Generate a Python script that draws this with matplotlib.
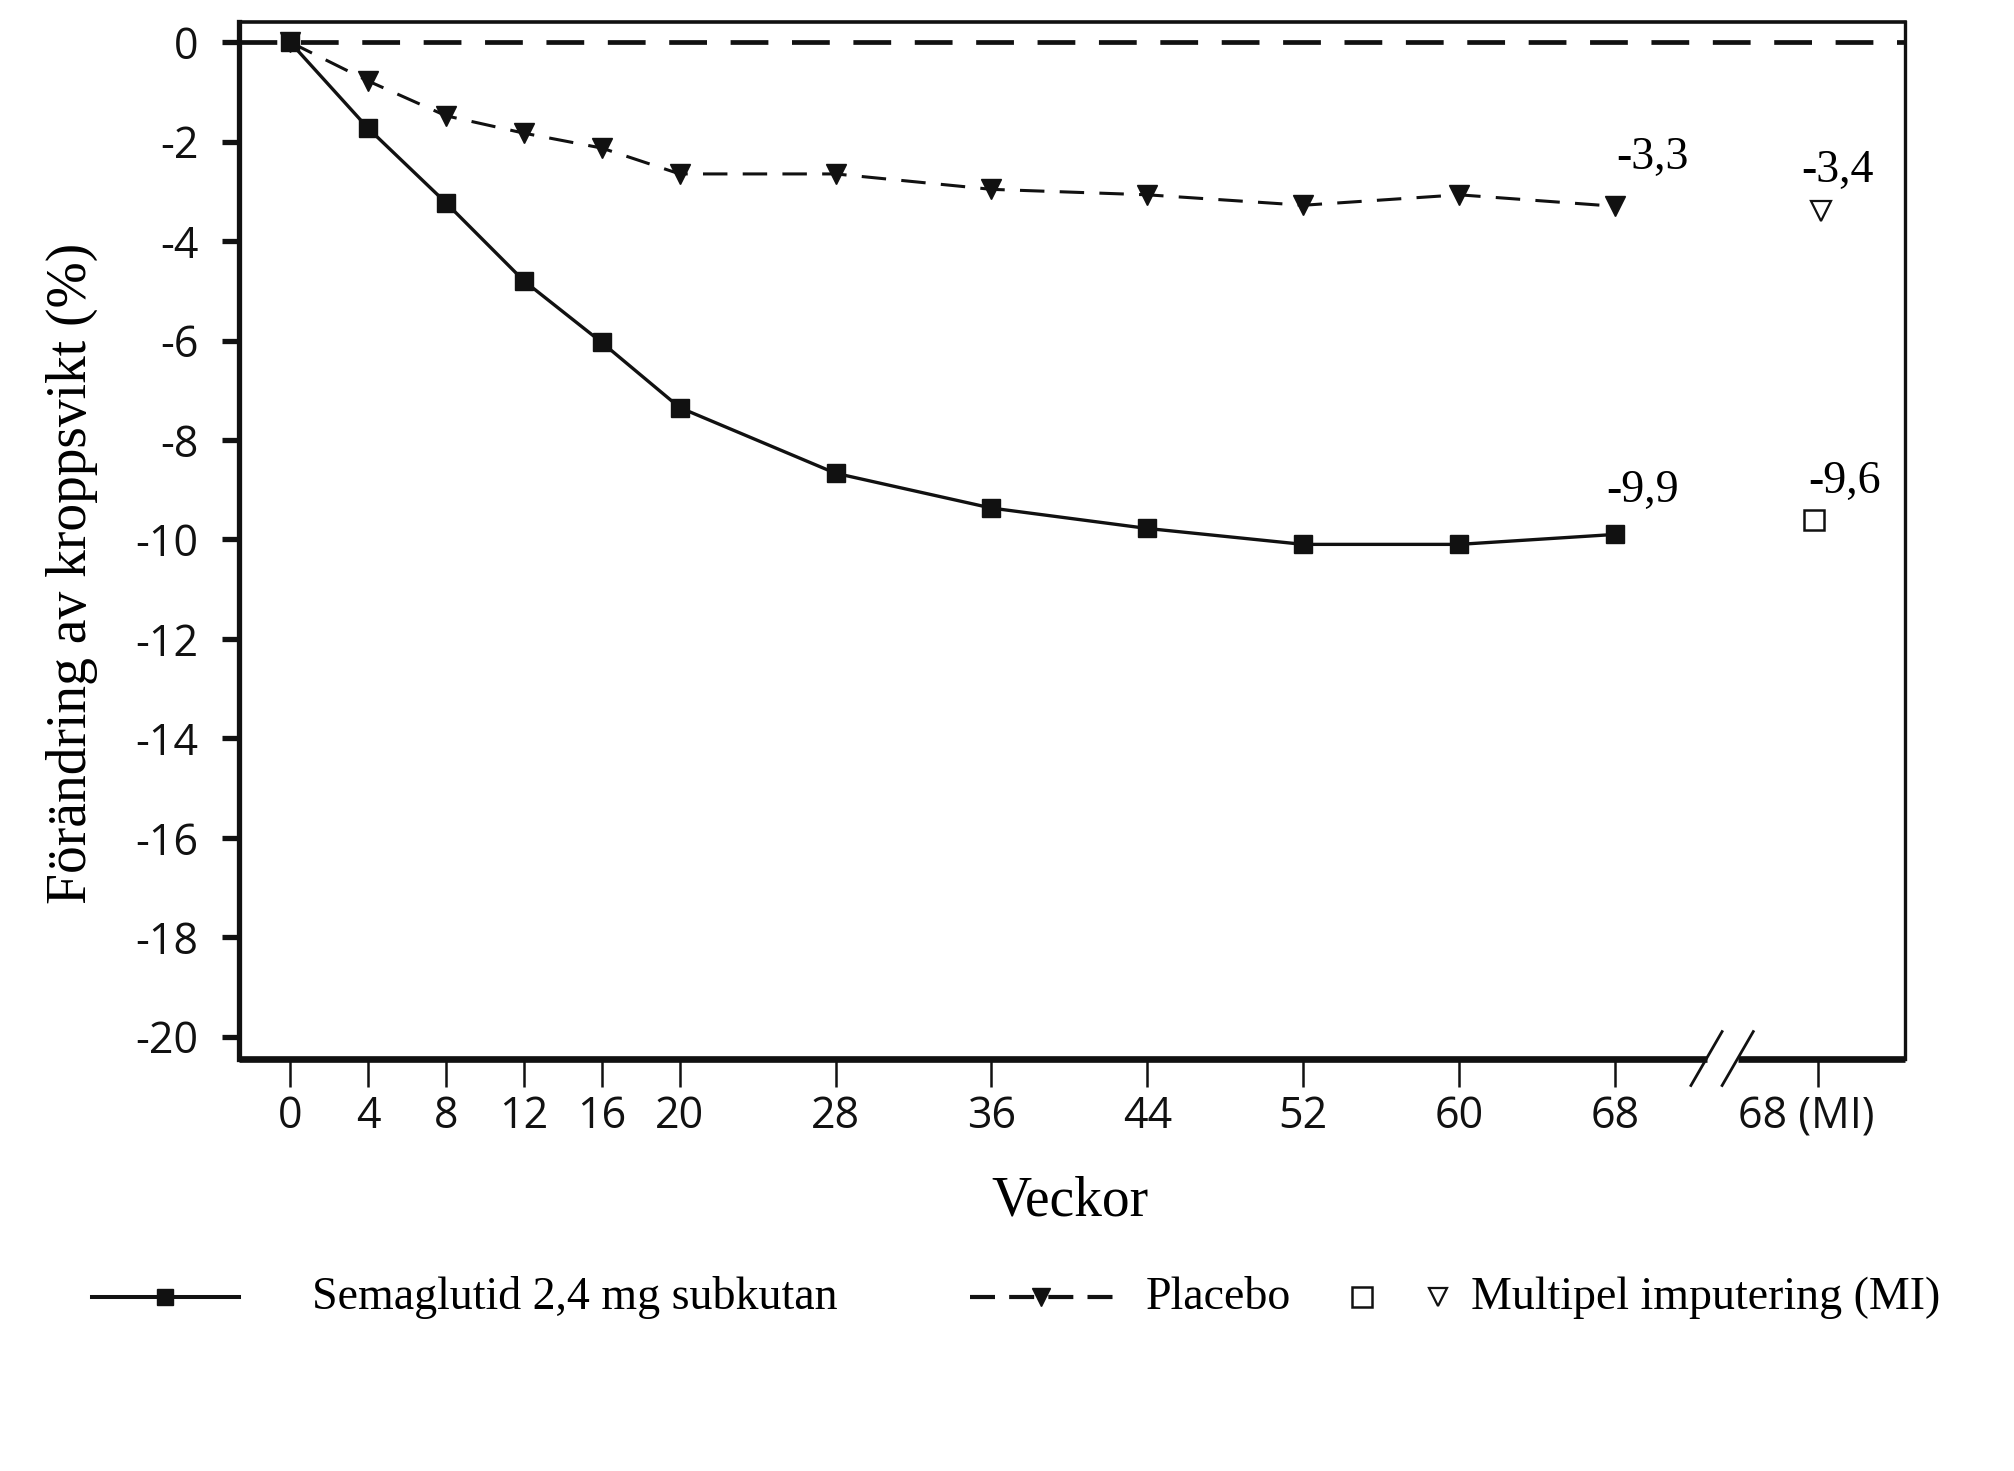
import matplotlib
matplotlib.use("Agg")
import matplotlib.pyplot as plt
from matplotlib.lines import Line2D
from matplotlib.transforms import ScaledTranslation

# data
weeks = [0, 4, 8, 12, 16, 20, 28, 36, 44, 52, 60, 68]
week_labels = ["0", "4", "8", "12", "16", "20", "28", "36", "44", "52", "60", "68"]
sema = [0, -1.73, -3.23, -4.80, -6.04, -7.35, -8.67, -9.37, -9.78, -10.10, -10.10, -9.90]
placebo = [0, -0.78, -1.48, -1.83, -2.13, -2.65, -2.65, -2.96, -3.07, -3.28, -3.07, -3.30]
mi_week = 78.4
mi_label = "68 (MI)"
sema_mi = -9.6
placebo_mi = -3.4
y_ticks = list(range(0, -21, -2))

SERIF = ["Liberation Serif", "DejaVu Serif"]
SANS = ["Open Sans", "DejaVu Sans"]
INK = "#111111"

fig = plt.figure(figsize=(20.14, 14.71), dpi=100)
ax = fig.add_axes([0.1185, 0.2804, 0.8275, 0.7048])

ax.axhline(0, color=INK, linewidth=3.4, dashes=(8, 5), zorder=1)
ax.plot(weeks, sema, color=INK, linewidth=2.4, marker="s", markersize=13, zorder=3)
ax.plot(weeks, placebo, color=INK, linewidth=2.2, dashes=(8, 5),
        marker="v", markersize=14, zorder=3)
ax.plot([mi_week - 0.2], [sema_mi], linestyle="none", marker="s", markersize=14,
        markerfacecolor="white", markeredgecolor=INK, markeredgewidth=1.8)
ax.plot([mi_week + 0.2], [placebo_mi], linestyle="none", marker="v", markersize=15,
        markerfacecolor="white", markeredgecolor=INK, markeredgewidth=1.6)

# value labels
ann_kw = dict(fontsize=33, family=SERIF, ha="center", va="center", color="black")
ax.text(69.9, -2.33, "-3,3", **ann_kw)
ax.text(79.4, -2.58, "-3,4", **ann_kw)
ax.text(69.4, -9.03, "-9,9", **ann_kw)
ax.text(79.8, -8.85, "-9,6", **ann_kw)

ax.set_xlim(-2.64, 82.9)
ax.set_ylim(-20.44, 0.41)

ax.set_yticks(y_ticks)
ax.set_yticklabels([str(v) for v in y_ticks], family=SANS, fontsize=31)
ax.set_xticks(weeks + [mi_week])
ax.set_xticklabels(week_labels + [mi_label], family=SANS, fontsize=31)
ax.tick_params(axis="y", direction="out", length=12, width=3.8, pad=17, colors=INK)
ax.tick_params(axis="x", direction="out", length=20, width=1.8, pad=6, colors=INK)

# the "68 (MI)" label sits a little left of its tick in the original
mi_tick_label = ax.get_xticklabels()[-1]
mi_tick_label.set_transform(mi_tick_label.get_transform()
                            + ScaledTranslation(-0.11, 0, fig.dpi_scale_trans))

for side, lw in [("left", 3.8), ("top", 2.6), ("right", 2.4)]:
    ax.spines[side].set_linewidth(lw)
    ax.spines[side].set_color(INK)
ax.spines["bottom"].set_visible(False)

# bottom axis drawn in two pieces with a break
xt = ax.get_xaxis_transform()
brk_a, brk_b = 72.7, 74.3
ax.plot([-2.64, brk_a], [0, 0], transform=xt, color=INK, linewidth=4.8,
        solid_capstyle="butt", clip_on=False, zorder=4)
ax.plot([brk_b, 82.9], [0, 0], transform=xt, color=INK, linewidth=4.8,
        solid_capstyle="butt", clip_on=False, zorder=4)
for bx in (brk_a, brk_b):
    ax.plot([bx - 0.8, bx + 0.8], [-0.026, 0.026], transform=xt, color=INK,
            linewidth=2.0, clip_on=False, zorder=5)

ax.set_ylabel("Förändring av kroppsvikt (%)", family=SERIF, fontsize=40)
ax.yaxis.set_label_coords(-0.0842, 0.468)
fig.text(0.5314, 0.183, "Veckor", family=SERIF, fontsize=40, ha="center", va="center")

# legend row
ly = 0.118
fig.add_artist(Line2D([0.0459, 0.1187], [ly, ly], transform=fig.transFigure,
                      color=INK, linewidth=2.9))
fig.add_artist(Line2D([0.0817], [ly], transform=fig.transFigure, marker="s",
                      markersize=12, color=INK, linestyle="none"))
fig.text(0.155, ly, "Semaglutid 2,4 mg subkutan", family=SERIF, fontsize=33,
         ha="left", va="center")
fig.add_artist(Line2D([0.4817, 0.5537], [ly, ly], transform=fig.transFigure,
                      color=INK, linewidth=3.0, dashes=(6, 3.4)))
fig.add_artist(Line2D([0.5168], [ly], transform=fig.transFigure, marker="v",
                      markersize=13, color=INK, linestyle="none"))
fig.text(0.5691, ly, "Placebo", family=SERIF, fontsize=33, ha="left", va="center")
fig.add_artist(Line2D([0.6763], [ly], transform=fig.transFigure, marker="s",
                      markersize=14, markerfacecolor="white", markeredgecolor=INK,
                      markeredgewidth=1.8, linestyle="none"))
fig.add_artist(Line2D([0.714], [ly], transform=fig.transFigure, marker="v",
                      markersize=13, markerfacecolor="white", markeredgecolor=INK,
                      markeredgewidth=1.6, linestyle="none"))
fig.text(0.7305, ly, "Multipel imputering (MI)", family=SERIF, fontsize=33,
         ha="left", va="center")

fig.savefig("out.png", dpi=100, facecolor="white")
